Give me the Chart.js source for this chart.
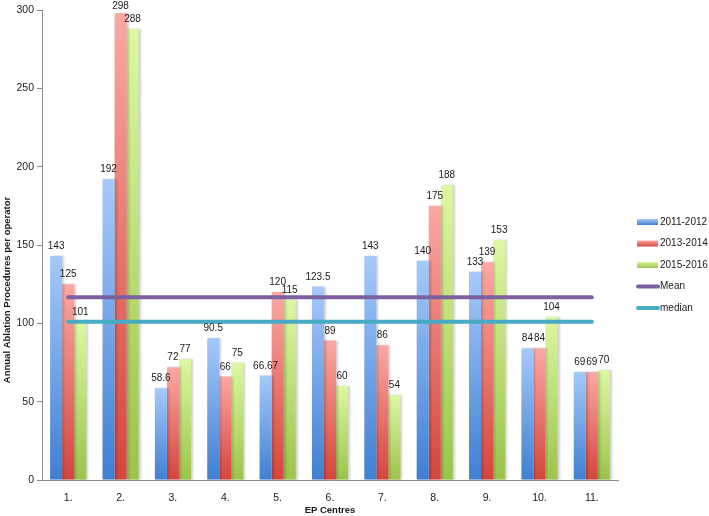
<!DOCTYPE html>
<html>
<head>
<meta charset="utf-8">
<script src="https://cdn.jsdelivr.net/npm/chart.js@4"></script>
<style>
  html, body { margin: 0; padding: 0; background: #fff; }
  #wrap { width: 709px; height: 516px; }
</style>
</head>
<body>
<div id="wrap"><canvas id="ablationChart" width="709" height="516"></canvas></div>
<script>
// Chart data
const centres = ["1.", "2.", "3.", "4.", "5.", "6.", "7.", "8.", "9.", "10.", "11."];
const y2011 = [143, 192, 58.6, 90.5, 66.67, 123.5, 143, 140, 133, 84, 69];
const y2013 = [125, 298, 72, 66, 120, 89, 86, 175, 139, 84, 69];
const y2015 = [101, 288, 77, 75, 115, 60, 54, 188, 153, 104, 70];
const meanLine = [116.7, 116.7, 116.7, 116.7, 116.7, 116.7, 116.7, 116.7, 116.7, 116.7, 116.7];
const medianLine = [101, 101, 101, 101, 101, 101, 101, 101, 101, 101, 101];
const yTicks = [0, 50, 100, 150, 200, 250, 300];

const FONT = "'Liberation Sans', Arial, sans-serif";

// vertical gradient per bar: light on top, dark at the base
function barGradient(topColor, bottomColor) {
  return function (context) {
    const chart = context.chart;
    const yScale = chart.scales.y;
    if (!chart.chartArea || !yScale || context.parsed === undefined) return bottomColor;
    const top = yScale.getPixelForValue(context.parsed.y);
    const base = yScale.getPixelForValue(0);
    if (!isFinite(top) || !isFinite(base) || top === base) return bottomColor;
    const g = chart.ctx.createLinearGradient(0, top, 0, base);
    g.addColorStop(0, topColor);
    g.addColorStop(1, bottomColor);
    return g;
  };
}

const legendItems = [
  { label: "2011-2012", type: "bar", top: "#a6c9fb", bottom: "#3f7fd2" },
  { label: "2013-2014", type: "bar", top: "#fba8a3", bottom: "#d5453c" },
  { label: "2015-2016", type: "bar", top: "#ddf8a2", bottom: "#9cc34b" },
  { label: "Mean", type: "line", color: "#7d60a1" },
  { label: "median", type: "line", color: "#48aac4" },
];

// soft shadow on the right side of bars
const barShadow = {
  id: "barShadow",
  beforeDatasetDraw(chart, args) {
    if (args.meta.type !== "bar") return;
    const ctx = chart.ctx;
    ctx.save();
    ctx.shadowColor = "rgba(0,0,0,0.18)";
    ctx.shadowOffsetX = 2;
    ctx.shadowOffsetY = 0;
    ctx.shadowBlur = 2;
  },
  afterDatasetDraw(chart, args) {
    if (args.meta.type !== "bar") return;
    chart.ctx.restore();
  },
};

// value labels above every bar
const valueLabels = {
  id: "valueLabels",
  afterDatasetsDraw(chart) {
    const ctx = chart.ctx;
    ctx.save();
    ctx.font = "10px " + FONT;
    ctx.fillStyle = "#1a1a1a";
    ctx.textAlign = "center";
    ctx.textBaseline = "alphabetic";
    chart.data.datasets.forEach((ds, i) => {
      const meta = chart.getDatasetMeta(i);
      if (meta.type !== "bar") return;
      meta.data.forEach((bar, j) => {
        // keep the label inside the canvas for the tallest bar
        const y = Math.max(bar.y - 7, 9);
        ctx.fillText(String(ds.data[j]), bar.x, y);
      });
    });
    ctx.restore();
  },
};

// legend on the right + rotated y title
const sideLegend = {
  id: "sideLegend",
  afterDraw(chart) {
    const ctx = chart.ctx;
    const x = chart.chartArea.right + 19;
    let y = 222;
    ctx.save();
    ctx.font = "10px " + FONT;
    ctx.textBaseline = "middle";
    legendItems.forEach((item) => {
      if (item.type === "bar") {
        const g = ctx.createLinearGradient(0, y - 3, 0, y + 3);
        g.addColorStop(0, item.top);
        g.addColorStop(1, item.bottom);
        ctx.fillStyle = g;
        ctx.fillRect(x, y - 3, 21, 6);
      } else {
        ctx.strokeStyle = item.color;
        ctx.lineWidth = 4;
        ctx.lineCap = "round";
        ctx.beginPath();
        ctx.moveTo(x + 1, y);
        ctx.lineTo(x + 21, y);
        ctx.stroke();
      }
      ctx.fillStyle = "#1a1a1a";
      ctx.fillText(item.label, x + 23, y);
      y += 21.5;
    });

    ctx.translate(7, 290);
    ctx.rotate(-Math.PI / 2);
    ctx.font = "bold 9.5px " + FONT;
    ctx.textAlign = "center";
    ctx.textBaseline = "middle";
    ctx.fillText("Annual Ablation Procedures per operator", 0, 0);
    ctx.restore();
  },
};

document.addEventListener("DOMContentLoaded", function () {
  const ctx = document.getElementById("ablationChart");
  new Chart(ctx, {
    type: "bar",
    data: {
      labels: centres,
      datasets: [
        {
          label: "2011-2012",
          data: y2011,
          backgroundColor: barGradient("#a6c9fb", "#3f7fd2"),
          categoryPercentage: 0.69,
          barPercentage: 1,
        },
        {
          label: "2013-2014",
          data: y2013,
          backgroundColor: barGradient("#fba8a3", "#d5453c"),
          categoryPercentage: 0.69,
          barPercentage: 1,
        },
        {
          label: "2015-2016",
          data: y2015,
          backgroundColor: barGradient("#ddf8a2", "#9cc34b"),
          categoryPercentage: 0.69,
          barPercentage: 1,
        },
        {
          type: "line",
          label: "Mean",
          data: meanLine,
          borderColor: "#7d60a1",
          borderWidth: 4,
          pointRadius: 0,
          borderCapStyle: "round",
          order: -1,
        },
        {
          type: "line",
          label: "median",
          data: medianLine,
          borderColor: "#48aac4",
          borderWidth: 4,
          pointRadius: 0,
          borderCapStyle: "round",
          order: -1,
        },
      ],
    },
    options: {
      responsive: false,
      animation: false,
      layout: {
        padding: { left: 0, top: 10, right: 91, bottom: 0 },
      },
      scales: {
        x: {
          grid: { display: false },
          border: { display: true, color: "#8c8c8c" },
          ticks: {
            color: "#222",
            font: { family: FONT, size: 10.5 },
            padding: 4,
            maxRotation: 0,
          },
          title: {
            display: true,
            text: "EP Centres",
            color: "#1a1a1a",
            font: { family: FONT, size: 9.5, weight: "bold" },
            padding: { top: 0, bottom: 0 },
          },
          afterFit(scale) {
            scale.height = 36;
          },
        },
        y: {
          min: 0,
          max: 300,
          afterBuildTicks(scale) {
            scale.ticks = yTicks.map((v) => ({ value: v }));
          },
          grid: {
            drawOnChartArea: false,
            drawTicks: true,
            tickLength: 5,
            color: "#8c8c8c",
          },
          border: { display: true, color: "#8c8c8c" },
          ticks: {
            color: "#222",
            font: { family: FONT, size: 10.5 },
            padding: 3,
          },
          afterFit(scale) {
            scale.width = 42;
          },
        },
      },
      plugins: {
        legend: { display: false },
        tooltip: { enabled: false },
      },
    },
    plugins: [barShadow, valueLabels, sideLegend],
  });
});
</script>
</body>
</html>
